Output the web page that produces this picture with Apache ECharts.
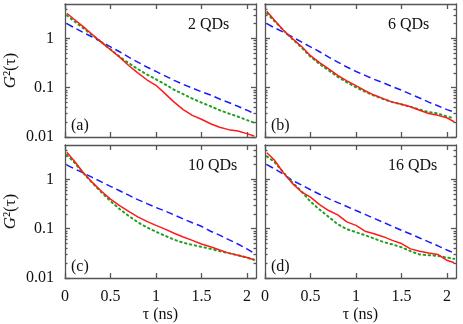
<!DOCTYPE html>
<html>
<head>
<meta charset="utf-8">
<script src="https://cdn.jsdelivr.net/npm/echarts@6/dist/echarts.min.js"></script>
<style>
  html, body { margin: 0; padding: 0; background: #fff; }
  #chart { width: 463px; height: 324px; }
</style>
</head>
<body>
<div id="chart"></div>
<script>
// delay axis (ns), shared by every curve
const tau = [0.02, 0.1, 0.2, 0.3, 0.4, 0.5, 0.6, 0.7, 0.8, 0.9, 1.0, 1.1, 1.2, 1.3, 1.4, 1.5, 1.6, 1.7, 1.8, 1.9, 2.0, 2.08];

// (a) 2 QDs
const redA = [3.24, 2.45, 1.74, 1.20, 0.832, 0.589, 0.417, 0.282, 0.200, 0.145, 0.112, 0.076, 0.051, 0.036, 0.0275, 0.0229, 0.0186, 0.0158, 0.0141, 0.0132, 0.0117, 0.0105];
const greenA = [2.95, 2.24, 1.62, 1.17, 0.851, 0.603, 0.427, 0.316, 0.240, 0.186, 0.148, 0.117, 0.091, 0.074, 0.060, 0.050, 0.042, 0.035, 0.030, 0.026, 0.022, 0.0195];
const blueA = [2.0, 1.66, 1.32, 1.07, 0.851, 0.676, 0.537, 0.417, 0.331, 0.263, 0.214, 0.174, 0.141, 0.117, 0.098, 0.083, 0.071, 0.059, 0.050, 0.042, 0.035, 0.030];

// (b) 6 QDs
const redB = [3.55, 2.40, 1.48, 1.0, 0.692, 0.447, 0.324, 0.240, 0.178, 0.138, 0.110, 0.087, 0.071, 0.060, 0.051, 0.046, 0.041, 0.035, 0.030, 0.0275, 0.0245, 0.0204];
const greenB = [3.24, 2.29, 1.48, 0.977, 0.661, 0.427, 0.302, 0.224, 0.166, 0.129, 0.102, 0.083, 0.069, 0.059, 0.051, 0.046, 0.041, 0.036, 0.032, 0.030, 0.026, 0.024];
const blueB = [2.0, 1.66, 1.35, 1.07, 0.851, 0.676, 0.537, 0.417, 0.331, 0.263, 0.214, 0.178, 0.148, 0.126, 0.105, 0.089, 0.074, 0.062, 0.051, 0.043, 0.036, 0.032];

// (c) 10 QDs
const redC = [3.55, 2.40, 1.38, 0.871, 0.575, 0.398, 0.295, 0.224, 0.174, 0.141, 0.117, 0.098, 0.081, 0.068, 0.058, 0.049, 0.043, 0.037, 0.032, 0.029, 0.026, 0.0234];
const greenC = [3.16, 2.24, 1.35, 0.851, 0.550, 0.363, 0.251, 0.182, 0.135, 0.107, 0.087, 0.072, 0.060, 0.052, 0.047, 0.043, 0.039, 0.035, 0.032, 0.029, 0.026, 0.0234];
const blueC = [1.95, 1.66, 1.35, 1.10, 0.891, 0.724, 0.589, 0.479, 0.389, 0.324, 0.269, 0.229, 0.191, 0.158, 0.132, 0.112, 0.089, 0.074, 0.060, 0.049, 0.039, 0.032];

// (d) 16 QDs
const redD = [3.47, 2.51, 1.38, 0.832, 0.562, 0.437, 0.309, 0.234, 0.191, 0.138, 0.117, 0.089, 0.079, 0.069, 0.058, 0.050, 0.039, 0.035, 0.032, 0.030, 0.0229, 0.0204];
const greenD = [2.95, 2.29, 1.41, 0.871, 0.575, 0.355, 0.245, 0.174, 0.123, 0.098, 0.085, 0.074, 0.063, 0.054, 0.048, 0.042, 0.035, 0.030, 0.029, 0.028, 0.026, 0.0245];
const blueD = [2.0, 1.66, 1.29, 0.955, 0.776, 0.617, 0.501, 0.407, 0.339, 0.282, 0.234, 0.195, 0.162, 0.135, 0.112, 0.093, 0.078, 0.065, 0.054, 0.045, 0.037, 0.032];

const xTicks = [0, 0.5, 1, 1.5, 2];
const yMajor = [0.01, 0.1, 1];
const yMinor = [0.02, 0.03, 0.04, 0.05, 0.06, 0.07, 0.08, 0.09, 0.2, 0.3, 0.4, 0.5, 0.6, 0.7, 0.8, 0.9, 2, 3, 4];
const panelTags = ['(a)', '(b)', '(c)', '(d)'];
const panelNames = ['2 QDs', '6 QDs', '10 QDs', '16 QDs'];

const curves = [
  [redA, greenA, blueA],
  [redB, greenB, blueB],
  [redC, greenC, blueC],
  [redD, greenD, blueD],
];

const font = 'Liberation Serif';
const ink = '#111';
const frameLine = { color: '#555', width: 1.3 };
const boxes = [[65, 4], [265, 4], [65, 145], [265, 145]];

const grids = [], xAxes = [], yAxes = [], series = [], graphics = [];

boxes.forEach(([left, top], i) => {
  const bottomRow = i >= 2;
  const leftCol = i % 2 === 0;
  grids.push({ left, top, width: 191, height: 133 });

  ['bottom', 'top'].forEach(pos => {
    const labelled = bottomRow && pos === 'bottom';
    xAxes.push({
      type: 'value', gridIndex: i, position: pos, min: 0, max: 2.1,
      splitLine: { show: false },
      axisLine: { show: true, onZero: false, lineStyle: frameLine },
      axisTick: { show: true, inside: true, length: 5, customValues: xTicks, lineStyle: frameLine },
      axisLabel: {
        show: labelled, customValues: xTicks, margin: 11,
        fontFamily: font, fontSize: 16, color: ink,
        formatter: v => String(v)
      },
      name: labelled ? 'τ (ns)' : '',
      nameLocation: 'middle', nameGap: 29,
      nameTextStyle: { fontFamily: font, fontSize: 16, color: ink }
    });
  });

  ['left', 'right'].forEach(pos => {
    const labelled = leftCol && pos === 'left';
    const base = {
      type: 'log', logBase: 10, gridIndex: i, position: pos, min: 0.01, max: 5,
      splitLine: { show: false }
    };
    yAxes.push(Object.assign({}, base, {
      axisLine: { show: true, lineStyle: frameLine },
      axisTick: { show: true, inside: true, length: 5, customValues: yMajor, lineStyle: frameLine },
      axisLabel: {
        show: labelled, customValues: yMajor, margin: 11,
        fontFamily: font, fontSize: 16, color: ink,
        formatter: v => String(+v.toPrecision(3))
      },
      name: labelled ? '{i|G}{n|²(τ)}' : '',
      nameLocation: 'middle', nameGap: 46, nameRotate: 90,
      nameTextStyle: {
        rich: {
          i: { fontFamily: font, fontSize: 17, fontStyle: 'italic', color: ink },
          n: { fontFamily: font, fontSize: 17, color: ink }
        }
      }
    }));
    yAxes.push(Object.assign({}, base, {
      axisLine: { show: false },
      axisTick: { show: true, inside: true, length: 2.5, customValues: yMinor, lineStyle: frameLine },
      axisLabel: { show: false }
    }));
  });

  const [red, green, blue] = curves[i];
  const toPts = arr => tau.map((t, k) => [t, arr[k]]);
  const common = { type: 'line', xAxisIndex: i * 2, yAxisIndex: i * 4, showSymbol: false, silent: true, animation: false };
  series.push(Object.assign({}, common, { data: toPts(blue), lineStyle: { color: '#1a1aff', width: 1.5, type: [7, 4] } }));
  series.push(Object.assign({}, common, { data: toPts(green), lineStyle: { color: '#1ea01e', width: 2, type: [1.5, 3.5], cap: 'round' } }));
  series.push(Object.assign({}, common, { data: toPts(red), lineStyle: { color: '#ff1a1a', width: 1.5 } }));

  graphics.push({
    type: 'text', left: left + 123, top: top + 13,
    style: { text: panelNames[i], font: '16px "Liberation Serif"', fill: ink }
  });
  graphics.push({
    type: 'text', left: left + 6, top: top + 114,
    style: { text: panelTags[i], font: '16px "Liberation Serif"', fill: ink }
  });
});

const chart = echarts.init(document.getElementById('chart'));
chart.setOption({
  animation: false,
  backgroundColor: '#fff',
  grid: grids,
  xAxis: xAxes,
  yAxis: yAxes,
  series,
  graphic: graphics
});
</script>
</body>
</html>
